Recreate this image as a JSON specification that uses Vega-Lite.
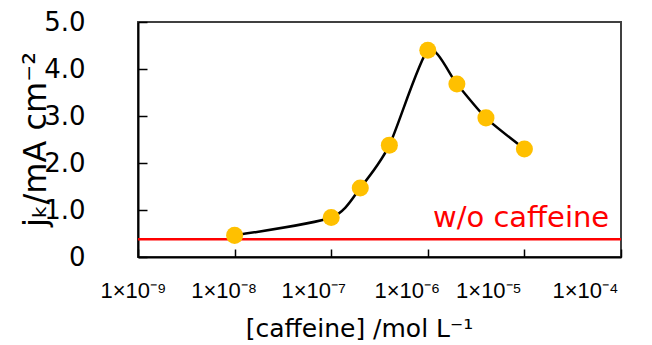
{
  "$schema": "https://vega.github.io/schema/vega-lite/v6.json",
  "width": 483,
  "height": 235,
  "autosize": "none",
  "padding": {"left": 138, "top": 22, "right": 31, "bottom": 88},
  "background": "white",
  "config": {
    "view": {"stroke": "#404040", "strokeWidth": 2},
    "font": "DejaVu Sans",
    "axis": {"grid": false}
  },
  "datasets": {
    "caffeine": [
      {"conc": 1e-8, "jk": 0.46},
      {"conc": 1e-7, "jk": 0.84},
      {"conc": 2e-7, "jk": 1.47},
      {"conc": 4e-7, "jk": 2.38},
      {"conc": 1e-6, "jk": 4.40},
      {"conc": 2e-6, "jk": 3.68},
      {"conc": 4e-6, "jk": 2.96},
      {"conc": 1e-5, "jk": 2.30}
    ],
    "baseline": [{"jk": 0.38}],
    "note": [{"conc": 1.13e-6, "jk": 0.64, "label": "w/o caffeine"}]
  },
  "layer": [
    {
      "data": {"name": "caffeine"},
      "mark": {"type": "line", "interpolate": "cardinal", "tension": 0.3, "color": "black", "strokeWidth": 2.5},
      "encoding": {
        "x": {
          "field": "conc", "type": "quantitative",
          "scale": {"type": "log", "domain": [1e-9, 1e-4], "nice": false},
          "axis": {
            "values": [1e-9, 1e-8, 1e-7, 1e-6, 1e-5, 1e-4],
            "labelExpr": "datum.value < 3e-9 ? '1×10⁻⁹' : datum.value < 3e-8 ? '1×10⁻⁸' : datum.value < 3e-7 ? '1×10⁻⁷' : datum.value < 3e-6 ? '1×10⁻⁶' : datum.value < 3e-5 ? '1×10⁻⁵' : '1×10⁻⁴'",
            "tickSize": -8, "tickColor": "black", "tickWidth": 1.5,
            "domainColor": "black", "domainWidth": 2,
            "labelFont": "Liberation Sans", "labelFontSize": 22, "labelColor": "black",
            "labelPadding": 31, "labelFlush": false, "labelOverlap": false,
            "labelOffset": {"condition": [
              {"test": "datum.value < 3e-9", "value": -5},
              {"test": "datum.value < 3e-8", "value": -11},
              {"test": "datum.value < 3e-7", "value": -18},
              {"test": "datum.value < 3e-6", "value": -21}
            ], "value": -36},
            "title": "[caffeine] /mol L⁻¹",
            "titleFont": "DejaVu Sans", "titleFontSize": 25, "titleFontWeight": "normal", "titleColor": "black",
            "titleX": 221, "titleY": 79, "titleBaseline": "alphabetic", "titleAlign": "center"
          }
        },
        "y": {
          "field": "jk", "type": "quantitative",
          "scale": {"domain": [0, 5], "nice": false},
          "axis": {
            "values": [0, 0.5, 1, 1.5, 2, 2.5, 3, 3.5, 4, 4.5, 5],
            "labelExpr": "datum.value == 0 ? '0' : (datum.value % 1 == 0 ? format(datum.value, '.1f') : '')",
            "tickSize": -9, "tickColor": "black", "tickWidth": 1.5,
            "domainColor": "black", "domainWidth": 2,
            "labelFont": "DejaVu Sans", "labelFontSize": 26, "labelColor": "black",
            "labelPadding": 62, "labelOverlap": false, "labelFlush": false,
            "title": "jₖ/mA cm⁻²",
            "titleFont": "DejaVu Sans", "titleFontSize": 32, "titleFontWeight": "normal", "titleColor": "black",
            "titleAngle": -90, "titleX": -93, "titleY": 117, "titleBaseline": "alphabetic", "titleAlign": "center"
          }
        }
      }
    },
    {
      "data": {"name": "baseline"},
      "mark": {"type": "rule", "color": "#FF0000", "strokeWidth": 2.5},
      "encoding": {
        "y": {"field": "jk", "type": "quantitative", "scale": {"domain": [0, 5], "nice": false}}
      }
    },
    {
      "data": {"name": "caffeine"},
      "mark": {"type": "circle", "size": 290, "color": "#FFC000", "opacity": 1},
      "encoding": {
        "x": {"field": "conc", "type": "quantitative", "scale": {"type": "log", "domain": [1e-9, 1e-4], "nice": false}},
        "y": {"field": "jk", "type": "quantitative", "scale": {"domain": [0, 5], "nice": false}}
      }
    },
    {
      "data": {"name": "note"},
      "mark": {"type": "text", "color": "#FF0000", "fontSize": 29, "font": "DejaVu Sans", "align": "left", "baseline": "alphabetic"},
      "encoding": {
        "x": {"field": "conc", "type": "quantitative", "scale": {"type": "log", "domain": [1e-9, 1e-4], "nice": false}},
        "y": {"field": "jk", "type": "quantitative", "scale": {"domain": [0, 5], "nice": false}},
        "text": {"field": "label"}
      }
    }
  ]
}
